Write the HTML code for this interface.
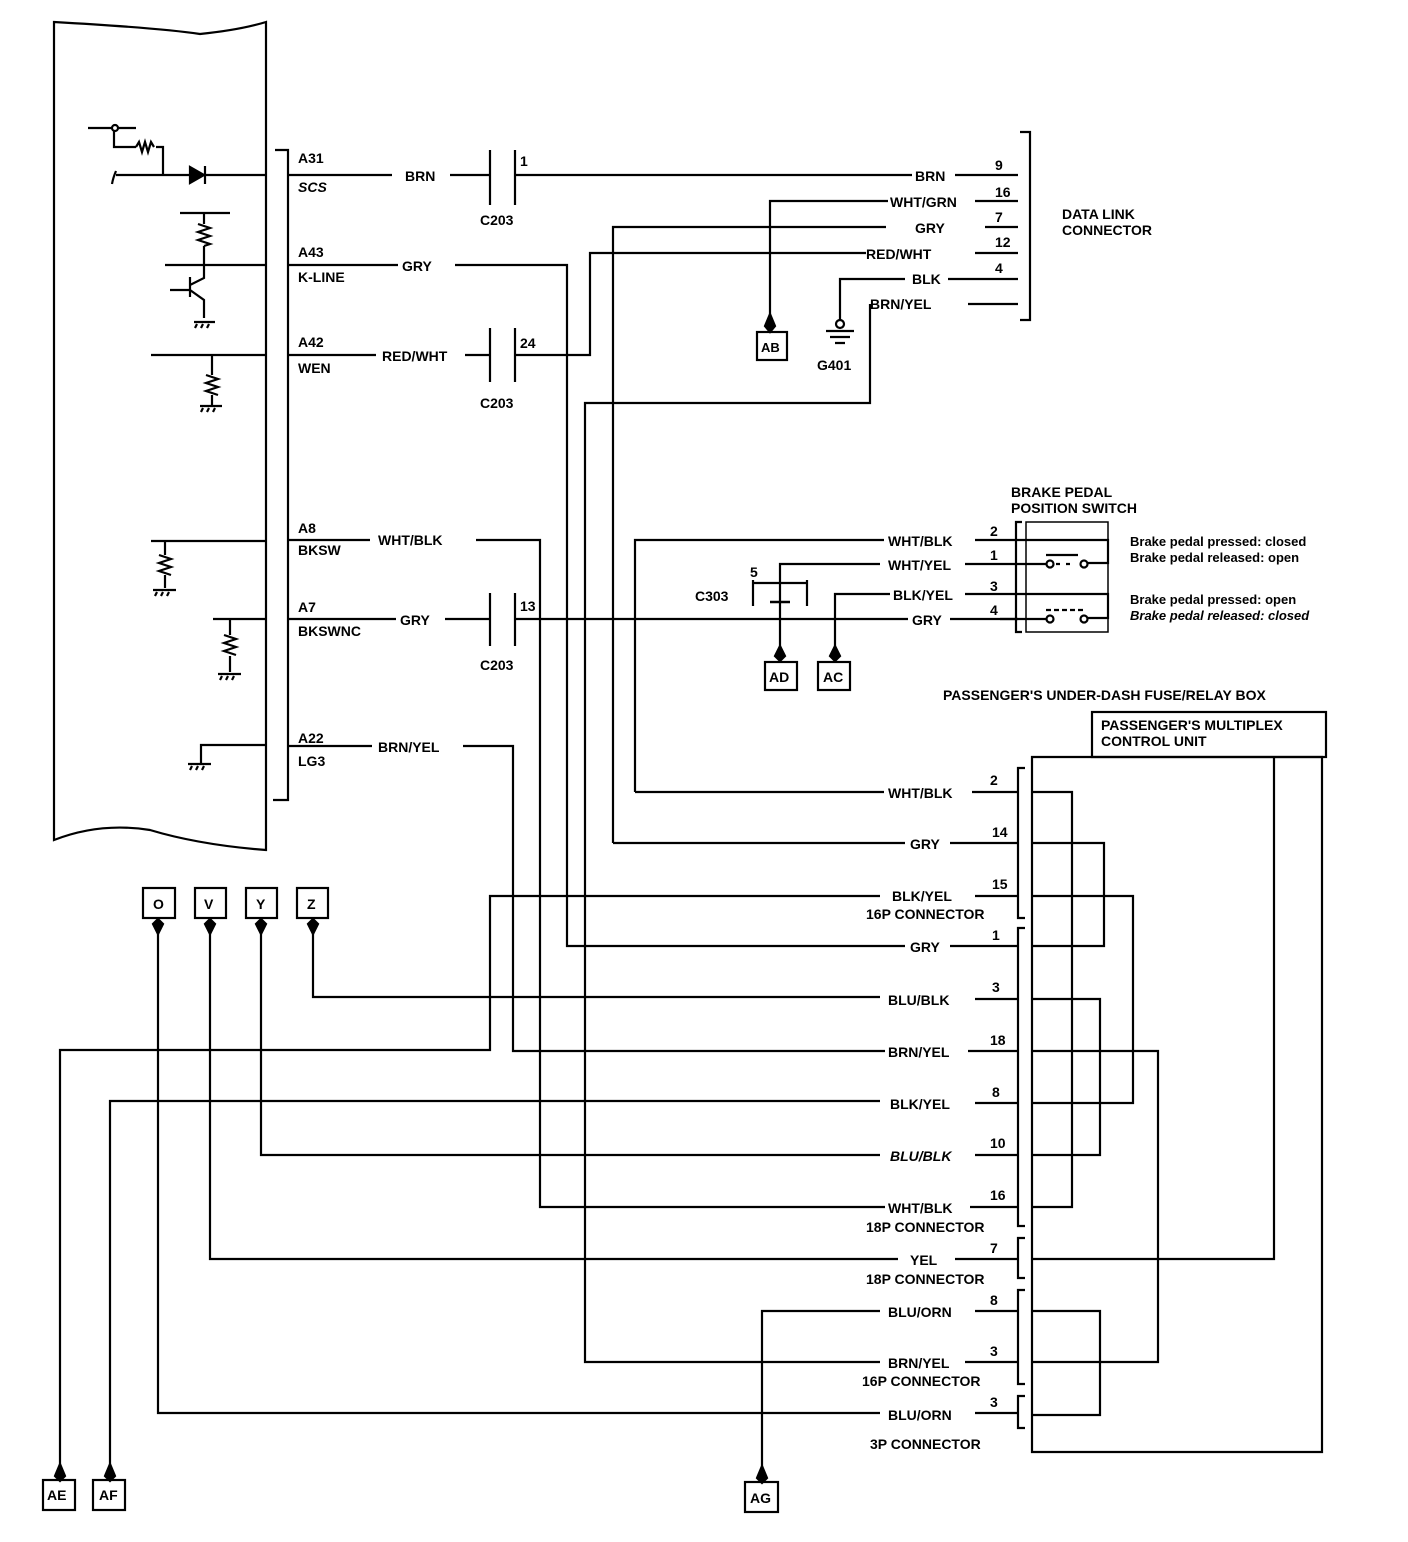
<!DOCTYPE html>
<html><head><meta charset="utf-8"><style>
html,body{margin:0;padding:0;background:#fff}
svg{display:block}
text{font-family:"Liberation Sans",Arial,sans-serif;font-weight:bold;font-size:14px;fill:#000}
.s{font-size:13px}
</style></head><body>
<svg width="1408" height="1542" viewBox="0 0 1408 1542" xmlns="http://www.w3.org/2000/svg">
<g fill="none" stroke="#000" stroke-width="2.2">
<!-- ECM -->
<path d="M54 22 Q160 28 200 34 Q240 30 266 22 L266 850 Q200 845 150 830 Q100 822 54 840 Z"/>
<path d="M275 150 L288 150 L288 800 L273 800"/>
<!-- internal ecm circuits -->
<path d="M88 128 L112 128 M118 128 L136 128 M114 131 L114 147 L136 147 M156 147 L163 147 L163 175 M116 175 L190 175 M205 175 L266 175"/>
<circle cx="115" cy="128" r="3" fill="#fff"/>
<path d="M136 147 l3 -5 l3 10 l3 -10 l3 10 l3 -10 l3 5"/>
<path d="M190 167 L190 183 L204 175 Z" fill="#000"/><path d="M205 166 L205 184"/>
<path d="M116 171 Q113 178 112 184"/>
<path d="M180 213 L230 213 M204 213 L204 224 M204 246 L204 265 M165 265 L266 265 M204 265 L204 278 L190 285 M190 277 L190 297 M170 290 L190 290 M190 290 L204 300 L204 318 M194 322 L215 322"/>
<path d="M198 224 l12 4 l-12 4 l12 4 l-12 4 l12 4 l-6 2"/>
<path d="M197 324 l-2 4 M203 324 l-2 4 M209 324 l-2 4"/>
<path d="M151 355 L266 355 M212 355 L212 375 M212 395 L212 405 M200 406 L222 406"/>
<path d="M206 375 l12 4 l-12 4 l12 4 l-12 4 l12 4"/>
<path d="M203 408 l-2 4 M209 408 l-2 4 M215 408 l-2 4"/>
<path d="M151 541 L266 541 M165 541 L165 555 M165 575 L165 588 M153 590 L176 590"/>
<path d="M159 555 l12 4 l-12 4 l12 4 l-12 4 l12 4"/>
<path d="M157 592 l-2 4 M163 592 l-2 4 M169 592 l-2 4"/>
<path d="M213 619 L266 619 M230 619 L230 635 M230 656 L230 672 M218 674 L241 674"/>
<path d="M224 635 l12 4 l-12 4 l12 4 l-12 4 l12 4"/>
<path d="M222 676 l-2 4 M228 676 l-2 4 M234 676 l-2 4"/>
<path d="M266 745 L201 745 L201 763 M188 764 L211 764"/>
<path d="M192 766 l-2 4 M198 766 l-2 4 M204 766 l-2 4"/>
<!-- ECM pin wires -->
<path d="M288 175 L392 175 M450 175 L490 175 M515 175 L912 175 M955 175 L1018 175"/>
<path d="M490 150 L490 205 M515 150 L515 205 M490 328 L490 382 M515 328 L515 382 M490 593 L490 646 M515 593 L515 646"/>
<path d="M288 265 L398 265 M455 265 L567 265 L567 946 L905 946 M950 946 L1018 946"/>
<path d="M288 355 L376 355 M465 355 L490 355 M515 355 L590 355 L590 253 L866 253 M975 253 L1018 253"/>
<path d="M288 540 L370 540 M476 540 L540 540 L540 1207 L885 1207 M970 1207 L1018 1207"/>
<path d="M288 619 L396 619 M445 619 L490 619 M515 619 L908 619 M950 619 L1018 619"/>
<path d="M288 746 L372 746 M463 746 L513 746 L513 1051 L885 1051 M968 1051 L1018 1051"/>
<!-- data link -->
<path d="M1020 132 L1030 132 L1030 320 L1020 320"/>
<path d="M975 201 L1018 201 M888 201 L770 201 L770 330"/>
<path d="M770 314 L765 326 L770 332 L775 326 Z" fill="#000"/>
<rect x="757" y="332" width="30" height="28"/>
<path d="M613 843 L613 227 L886 227 M985 227 L1018 227 M613 843 L905 843 M950 843 L1018 843"/>
<path d="M905 279 L840 279 L840 320 M948 279 L1018 279"/>
<circle cx="840" cy="324" r="4" fill="#fff"/>
<path d="M826 331 L854 331 M830 337 L850 337 M835 343 L845 343"/>
<path d="M968 304 L1018 304 M870 304 L870 403 L585 403 L585 1362 L880 1362 M965 1362 L1018 1362"/>
<!-- brake switch -->
<path d="M1000 540 L1018 540 M1000 564 L1018 564 M1000 594 L1018 594 M1000 619 L1018 619"/>
<path d="M1022 522 L1016 522 L1016 632 L1022 632"/>
<path d="M1026 522 L1108 522 L1108 632 L1026 632 Z" stroke-width="1.5"/>
<path d="M1018 540 L1108 540 L1108 563 L1088 563 M1018 564 L1046 564 M1046 555 L1078 555 M1056 564 l4 0 M1066 564 l4 0"/>
<circle cx="1050" cy="564" r="3.5" fill="#fff"/><circle cx="1084" cy="564" r="3.5" fill="#fff"/>
<path d="M1018 594 L1108 594 L1108 618 L1088 618 M1018 619 L1046 619 M1046 610 l5 0 M1054 610 l5 0 M1062 610 l5 0 M1070 610 l5 0 M1078 610 l5 0"/>
<circle cx="1050" cy="619" r="3.5" fill="#fff"/><circle cx="1084" cy="619" r="3.5" fill="#fff"/>
<path d="M635 792 L635 540 L884 540 M975 540 L1000 540 M635 792 L884 792 M972 792 L1018 792"/>
<path d="M880 564 L780 564 L780 660 M965 564 L1000 564"/>
<path d="M753 580 L753 606 M807 580 L807 606 M753 583 L807 583"/>
<path d="M770 602 L790 602" stroke-width="2.5"/>
<path d="M780 646 L775 656 L780 661 L785 656 Z" fill="#000"/>
<rect x="765" y="662" width="32" height="28"/>
<path d="M890 594 L835 594 L835 660 M965 594 L1000 594"/>
<path d="M835 646 L830 656 L835 661 L840 656 Z" fill="#000"/>
<rect x="818" y="662" width="32" height="28"/>
<!-- multiplex box -->
<rect x="1092" y="712" width="234" height="45"/>
<path d="M1032 757 L1322 757 L1322 1452 L1032 1452 Z"/>
<path d="M1025 768 L1018 768 L1018 918 L1025 918 M1025 928 L1018 928 L1018 1226 L1025 1226 M1025 1238 L1018 1238 L1018 1278 L1025 1278 M1025 1290 L1018 1290 L1018 1384 L1025 1384 M1025 1396 L1018 1396 L1018 1428 L1025 1428"/>
<path d="M1032 792 L1072 792 L1072 1207 L1032 1207"/>
<path d="M1032 843 L1104 843 L1104 946 L1032 946"/>
<path d="M1032 896 L1133 896 L1133 1103 L1032 1103"/>
<path d="M1032 999 L1100 999 L1100 1155 L1032 1155"/>
<path d="M1032 1051 L1158 1051 L1158 1362 L1032 1362"/>
<path d="M1032 1259 L1274 1259 L1274 757"/>
<path d="M1032 1311 L1100 1311 L1100 1415 L1032 1415"/>
<!-- lower left wires -->
<path d="M975 896 L1018 896 M880 896 L490 896 L490 1050 L60 1050 L60 1478"/>
<path d="M60 1464 L55 1476 L60 1481 L65 1476 Z" fill="#000"/>
<rect x="43" y="1480" width="32" height="30"/>
<path d="M975 1103 L1018 1103 M880 1101 L110 1101 L110 1478"/>
<path d="M110 1464 L105 1476 L110 1481 L115 1476 Z" fill="#000"/>
<rect x="93" y="1480" width="32" height="30"/>
<path d="M975 999 L1018 999 M880 997 L313 997 L313 922"/>
<path d="M313 934 L308 924 L313 919 L318 924 Z" fill="#000"/>
<rect x="297" y="888" width="31" height="30"/>
<path d="M975 1155 L1018 1155 M880 1155 L261 1155 L261 922"/>
<path d="M261 934 L256 924 L261 919 L266 924 Z" fill="#000"/>
<rect x="246" y="888" width="31" height="30"/>
<path d="M955 1259 L1018 1259 M898 1259 L210 1259 L210 922"/>
<path d="M210 934 L205 924 L210 919 L215 924 Z" fill="#000"/>
<rect x="195" y="888" width="31" height="30"/>
<path d="M975 1413 L1018 1413 M880 1413 L158 1413 L158 922"/>
<path d="M158 934 L153 924 L158 919 L163 924 Z" fill="#000"/>
<rect x="143" y="888" width="32" height="30"/>
<path d="M975 1311 L1018 1311 M880 1311 L762 1311 L762 1480"/>
<path d="M762 1466 L757 1478 L762 1483 L767 1478 Z" fill="#000"/>
<rect x="745" y="1482" width="33" height="30"/>
</g>
<!-- labels -->
<text x="298" y="163">A31</text><text x="298" y="192" font-style="italic">SCS</text>
<text x="405" y="181">BRN</text><text x="520" y="166">1</text><text x="480" y="225">C203</text>
<text x="298" y="257">A43</text><text x="298" y="282">K-LINE</text><text x="402" y="271">GRY</text>
<text x="298" y="347">A42</text><text x="298" y="373">WEN</text><text x="382" y="361">RED/WHT</text>
<text x="520" y="348">24</text><text x="480" y="408">C203</text>
<text x="298" y="533">A8</text><text x="298" y="555">BKSW</text><text x="378" y="545">WHT/BLK</text>
<text x="298" y="612">A7</text><text x="298" y="636">BKSWNC</text><text x="400" y="625">GRY</text>
<text x="520" y="611">13</text><text x="480" y="670">C203</text>
<text x="298" y="743">A22</text><text x="298" y="766">LG3</text><text x="378" y="752">BRN/YEL</text>
<text x="915" y="181">BRN</text><text x="995" y="170">9</text>
<text x="890" y="207">WHT/GRN</text><text x="995" y="197">16</text>
<text x="915" y="233">GRY</text><text x="995" y="222">7</text>
<text x="866" y="259">RED/WHT</text><text x="995" y="247">12</text>
<text x="912" y="284">BLK</text><text x="995" y="273">4</text>
<text x="870" y="309">BRN/YEL</text>
<text x="1062" y="219">DATA LINK</text><text x="1062" y="235">CONNECTOR</text>
<text x="761" y="352" class="s">AB</text><text x="817" y="370">G401</text>
<text x="1011" y="497">BRAKE PEDAL</text><text x="1011" y="513">POSITION SWITCH</text>
<text x="888" y="546">WHT/BLK</text><text x="990" y="536">2</text>
<text x="888" y="570">WHT/YEL</text><text x="990" y="560">1</text>
<text x="893" y="600">BLK/YEL</text><text x="990" y="591">3</text>
<text x="912" y="625">GRY</text><text x="990" y="615">4</text>
<text x="1130" y="546" class="s">Brake pedal pressed: closed</text>
<text x="1130" y="562" class="s">Brake pedal released: open</text>
<text x="1130" y="604" class="s">Brake pedal pressed: open</text>
<text x="1130" y="620" class="s" font-style="italic">Brake pedal released: closed</text>
<text x="750" y="577">5</text><text x="695" y="601">C303</text>
<text x="769" y="682">AD</text><text x="823" y="682">AC</text>
<text x="943" y="700">PASSENGER'S UNDER-DASH FUSE/RELAY BOX</text>
<text x="1101" y="730">PASSENGER'S MULTIPLEX</text><text x="1101" y="746">CONTROL UNIT</text>
<text x="888" y="798">WHT/BLK</text><text x="990" y="785">2</text>
<text x="910" y="849">GRY</text><text x="992" y="837">14</text>
<text x="892" y="901">BLK/YEL</text><text x="992" y="889">15</text>
<text x="866" y="919">16P CONNECTOR</text>
<text x="910" y="952">GRY</text><text x="992" y="940">1</text>
<text x="888" y="1005">BLU/BLK</text><text x="992" y="992">3</text>
<text x="888" y="1057">BRN/YEL</text><text x="990" y="1045">18</text>
<text x="890" y="1109">BLK/YEL</text><text x="992" y="1097">8</text>
<text x="890" y="1161" font-style="italic">BLU/BLK</text><text x="990" y="1148">10</text>
<text x="888" y="1213">WHT/BLK</text><text x="990" y="1200">16</text>
<text x="866" y="1232">18P CONNECTOR</text>
<text x="910" y="1265">YEL</text><text x="990" y="1253">7</text>
<text x="866" y="1284">18P CONNECTOR</text>
<text x="888" y="1317">BLU/ORN</text><text x="990" y="1305">8</text>
<text x="888" y="1368">BRN/YEL</text><text x="990" y="1356">3</text>
<text x="862" y="1386">16P CONNECTOR</text>
<text x="888" y="1420">BLU/ORN</text><text x="990" y="1407">3</text>
<text x="870" y="1449">3P CONNECTOR</text>
<text x="153" y="909">O</text><text x="204" y="909">V</text><text x="256" y="909">Y</text><text x="307" y="909">Z</text>
<text x="47" y="1500">AE</text><text x="99" y="1500">AF</text><text x="750" y="1503">AG</text>
</svg>
</body></html>
